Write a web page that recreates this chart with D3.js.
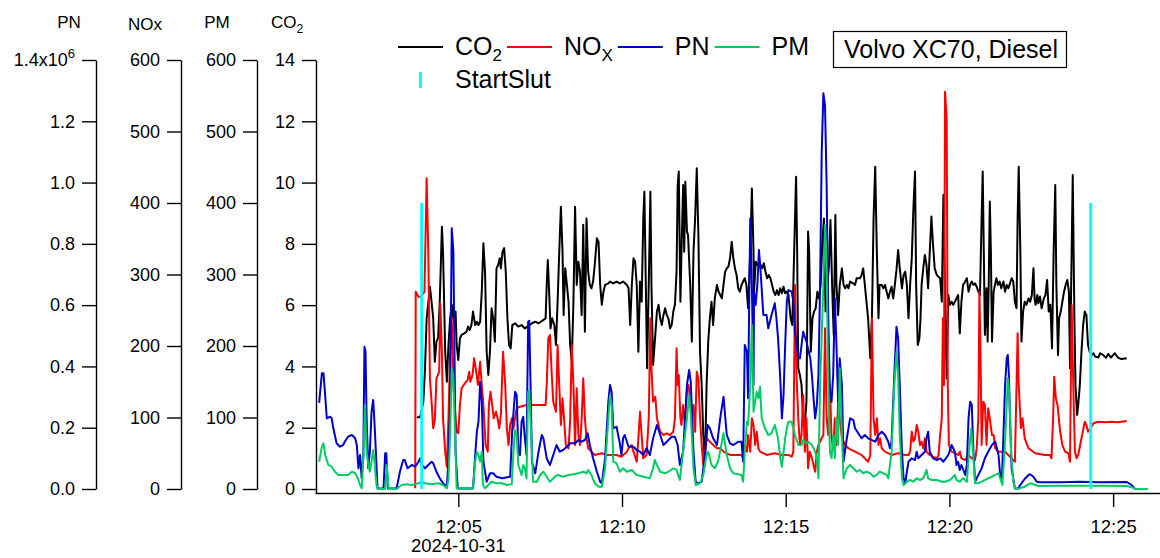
<!DOCTYPE html>
<html><head><meta charset="utf-8">
<script src="https://cdn.jsdelivr.net/npm/d3@7"></script>
<style>
body{margin:0;background:#fff}
svg{display:block}
text{font-family:"Liberation Sans",Arial,Helvetica,sans-serif;fill:#000}
</style>
</head><body>
<svg id="chart" width="1160" height="558"></svg>
<script>
// ---------------- DATA ----------------
// time in seconds after 12:00:00 on the test date, value in the series' unit
const testDate = [2024, 9, 31, 12, 0, 0];
const vehicleLabel = "Volvo XC70, Diesel";
const co2 = [[224,2.34],[230,2.34],[236,2.85],[239,3.94],[242,5.57],[248,6.60],[251,6.11],[254,5.57],[257,4.15],[260,4.81],[263,4.93],[266,6.11],[270,8.56],[272,7.74],[276,4.48],[279,3.50],[282,4.70],[285,5.57],[288,6.01],[291,5.57],[295,5.79],[297,4.70],[300,4.21],[303,4.92],[306,5.03],[311,5.08],[315,5.13],[318,5.30],[321,5.19],[324,5.35],[327,5.79],[331,5.35],[334,5.46],[337,5.35],[340,5.46],[343,6.44],[346,8.02],[349,7.09],[352,4.48],[355,3.72],[358,4.48],[361,5.90],[364,5.57],[367,4.81],[370,7.20],[373,7.31],[376,7.53],[378,7.20],[381,7.74],[384,7.86],[387,7.09],[390,5.57],[393,4.70],[396,4.59],[399,5.35],[404,5.41],[410,5.30],[416,5.35],[422,5.24],[435,5.41],[441,5.46],[447,5.41],[453,5.48],[460,5.57],[462,6.66],[464,7.47],[466,6.66],[469,5.24],[472,5.57],[476,5.35],[479,4.70],[482,6.11],[485,7.74],[488,9.21],[491,7.74],[493,5.68],[496,7.20],[499,6.66],[502,6.11],[505,4.70],[508,4.15],[511,6.11],[514,9.21],[517,6.66],[520,7.42],[523,7.09],[526,5.68],[529,8.62],[532,5.13],[535,8.83],[538,7.09],[541,6.66],[544,6.55],[547,6.77],[550,7.31],[554,8.18],[557,8.07],[560,6.66],[563,6.01],[566,6.44],[569,6.66],[575,6.71],[578,6.77],[584,6.71],[590,6.77],[596,6.71],[602,6.77],[609,6.66],[612,6.55],[615,5.35],[618,6.66],[621,7.53],[624,7.42],[627,6.66],[630,4.48],[633,6.77],[636,6.11],[639,8.83],[641,9.70],[643,7.42],[646,3.94],[649,6.66],[652,9.70],[654,6.66],[657,4.05],[661,5.03],[664,5.79],[667,6.01],[670,5.57],[673,5.35],[676,5.68],[679,5.90],[682,5.68],[685,5.57],[688,5.24],[691,5.35],[694,5.79],[697,6.01],[700,7.09],[702,9.92],[704,10.36],[707,6.11],[709,7.74],[712,9.92],[714,7.74],[716,10.03],[719,8.40],[721,8.29],[725,6.66],[728,4.81],[731,7.74],[734,8.83],[737,10.47],[740,8.29],[743,4.48],[746,3.39],[749,1.76],[752,0.75],[755,3.39],[758,4.81],[761,5.57],[764,6.11],[767,5.35],[770,6.22],[774,6.66],[777,6.44],[780,6.33],[783,6.22],[786,6.66],[789,7.09],[792,7.20],[795,7.26],[798,7.53],[801,8.07],[804,7.53],[807,7.20],[810,6.98],[813,6.55],[816,6.44],[819,6.66],[822,6.77],[825,6.88],[828,6.66],[831,5.90],[835,7.74],[838,9.81],[841,7.74],[842,6.44],[845,7.42],[848,7.31],[851,7.42],[854,7.31],[857,7.20],[860,7.37],[863,7.09],[866,6.88],[869,6.98],[872,6.88],[875,6.66],[878,6.44],[881,6.33],[884,6.49],[887,6.33],[890,6.55],[893,6.39],[896,6.60],[899,6.39],[902,6.44],[905,6.33],[909,5.57],[912,5.35],[914,6.66],[917,8.83],[919,10.19],[921,7.74],[923,3.94],[926,3.72],[929,3.39],[932,2.31],[935,2.09],[938,2.85],[941,8.40],[943,7.74],[946,4.48],[949,5.57],[952,5.79],[955,5.90],[958,6.44],[961,6.22],[964,6.66],[967,7.96],[970,8.83],[973,5.79],[976,6.66],[979,7.20],[982,8.78],[985,6.66],[988,5.03],[991,8.94],[993,6.66],[996,5.68],[999,6.66],[1003,7.20],[1006,6.66],[1009,6.55],[1012,6.66],[1015,6.55],[1018,6.77],[1024,6.71],[1027,6.66],[1030,6.88],[1036,6.88],[1039,6.98],[1042,7.20],[1045,6.66],[1048,6.11],[1051,5.57],[1055,4.27],[1058,5.57],[1061,8.83],[1064,10.52],[1067,7.74],[1070,5.57],[1072,6.66],[1076,6.66],[1079,6.55],[1082,6.66],[1085,6.44],[1088,6.22],[1091,6.44],[1094,6.60],[1097,6.22],[1100,6.66],[1103,7.15],[1106,7.80],[1109,7.20],[1113,6.55],[1116,6.98],[1119,7.09],[1122,6.66],[1125,5.57],[1128,6.66],[1131,7.53],[1134,9.16],[1137,10.36],[1139,6.66],[1142,4.70],[1145,4.92],[1147,5.57],[1149,6.66],[1152,7.20],[1155,7.64],[1158,7.31],[1161,6.55],[1164,7.74],[1167,8.89],[1170,7.96],[1173,7.20],[1177,6.98],[1180,6.93],[1183,6.88],[1186,6.11],[1189,9.60],[1192,6.44],[1195,3.61],[1198,6.33],[1201,6.01],[1204,6.11],[1207,6.01],[1210,6.11],[1213,6.22],[1216,6.33],[1219,5.08],[1222,6.11],[1225,6.66],[1229,6.77],[1232,6.88],[1235,6.44],[1238,6.66],[1241,6.77],[1244,6.66],[1247,6.71],[1250,6.60],[1253,6.44],[1256,6.33],[1259,8.83],[1261,10.36],[1263,7.74],[1265,5.03],[1268,6.55],[1270,4.81],[1272,6.66],[1274,9.38],[1276,7.74],[1278,4.81],[1281,6.44],[1286,6.88],[1289,6.66],[1292,6.77],[1295,6.55],[1299,6.77],[1302,6.44],[1305,6.66],[1308,6.55],[1311,6.71],[1314,6.88],[1317,6.77],[1320,6.11],[1323,5.90],[1325,8.83],[1327,10.52],[1330,7.74],[1332,4.81],[1335,5.79],[1338,6.11],[1341,6.01],[1345,6.22],[1348,6.11],[1351,6.33],[1354,7.20],[1356,6.22],[1358,6.01],[1361,6.33],[1363,6.06],[1366,6.28],[1369,5.90],[1373,6.22],[1376,6.33],[1379,6.82],[1382,5.79],[1385,6.01],[1388,4.59],[1391,7.74],[1394,9.92],[1396,6.66],[1399,4.37],[1401,5.57],[1404,5.79],[1407,6.11],[1410,6.44],[1413,6.66],[1416,6.82],[1419,6.44],[1421,3.94],[1424,7.74],[1426,10.25],[1429,5.57],[1431,3.39],[1434,2.42],[1436,2.74],[1439,3.39],[1442,4.48],[1445,5.35],[1448,5.79],[1451,5.68],[1454,4.70],[1457,4.48],[1461,4.37],[1464,4.43],[1467,4.32],[1473,4.29],[1476,4.43],[1482,4.37],[1487,4.28],[1491,4.41],[1496,4.29],[1503,4.43],[1509,4.29],[1515,4.24],[1525,4.27]];
const nox = [[221,1],[222,275.9],[227,268.9],[230,268.9],[238,275.5],[242,434.5],[245,331.9],[248,154.8],[251,122.1],[254,84.9],[257,96.5],[260,154.8],[265,164.1],[267,259.7],[270,192],[272,98.9],[276,52.2],[279,31.2],[282,98.9],[285,192],[288,238.7],[291,145.5],[295,98.9],[297,80.1],[300,77.9],[303,117.5],[306,140.8],[312,147.8],[317,152.4],[320,164.1],[322,150.1],[326,159.4],[329,182.8],[332,168.8],[336,145.5],[340,178],[343,145.5],[346,117.5],[350,61.5],[354,52.2],[356,117.5],[359,136.1],[362,117.5],[365,98.9],[369,108.1],[372,98.9],[375,84.9],[378,103.5],[382,192],[386,145.5],[389,84.9],[392,61.5],[395,89.5],[398,98.9],[401,84.9],[407,112.9],[413,115.1],[425,117.5],[435,117.5],[460,117.5],[462,145.5],[465,210.8],[468,215.4],[471,164.1],[474,122.1],[479,108.1],[482,201.4],[485,145.5],[488,89.5],[491,126.9],[494,96.5],[497,61.5],[502,56.9],[505,96.5],[508,201.4],[511,145.5],[514,61.5],[517,140.8],[520,75.5],[523,61.5],[526,96.5],[529,154.8],[532,98.9],[535,70.9],[538,56.9],[544,52.2],[550,47.6],[563,49.9],[572,47.6],[590,47.6],[599,45.2],[609,52.2],[612,56.9],[618,61.5],[621,52.2],[627,38.2],[630,70.9],[633,108.1],[636,75.5],[639,42.9],[645,47.6],[649,98.9],[652,238.7],[654,168.8],[657,122.1],[661,129.1],[664,98.9],[670,80.1],[676,75.5],[682,77.9],[688,75.5],[694,80.1],[697,98.9],[700,196.8],[702,145.5],[704,159.4],[707,98.9],[709,89.5],[712,117.5],[715,89.5],[719,136.1],[722,145.5],[725,122.1],[728,98.9],[731,117.5],[734,80.1],[737,164.1],[740,154.8],[743,98.9],[746,61.5],[749,33.6],[752,52.2],[755,70.9],[761,66.2],[767,61.5],[774,56.9],[780,56.9],[786,52.2],[792,49.9],[798,47.6],[807,47.6],[819,47.6],[822,42.9],[825,61.5],[829,52.2],[831,75.5],[835,52.2],[838,98.9],[841,89.5],[844,61.5],[847,80.1],[850,56.9],[853,52.2],[865,47.6],[880,49.9],[893,47.6],[905,47.6],[911,45.2],[914,52.2],[917,285.3],[920,154.8],[923,98.9],[926,61.5],[929,75.5],[932,131.5],[935,52.2],[938,98.9],[941,29],[944,52.2],[948,42.9],[951,33.6],[954,24.2],[957,52.2],[960,61.5],[966,70.9],[969,75.5],[972,224.8],[975,98.9],[978,75.5],[981,145.5],[984,70.9],[987,56.9],[990,98.9],[993,61.5],[996,122.1],[999,98.9],[1003,70.9],[1009,61.5],[1015,56.9],[1027,52.2],[1039,47.6],[1045,42.9],[1051,38.2],[1055,47.6],[1058,238.7],[1061,98.9],[1064,75.5],[1067,98.9],[1070,61.5],[1073,70.9],[1076,56.9],[1082,52.2],[1094,47.6],[1106,49.9],[1119,47.6],[1125,47.6],[1128,52.2],[1131,80.1],[1134,66.2],[1137,70.9],[1140,89.5],[1143,80.1],[1146,61.5],[1149,66.2],[1152,56.9],[1155,70.9],[1158,52.2],[1164,47.6],[1170,45.2],[1177,42.9],[1180,47.6],[1183,75.5],[1186,98.9],[1188,238.7],[1190,145.5],[1192,555.7],[1195,518.5],[1197,145.5],[1199,61.5],[1204,52.2],[1216,47.6],[1219,52.2],[1222,42.9],[1229,40.6],[1235,47.6],[1241,42.9],[1247,40.6],[1250,56.9],[1253,98.9],[1255,275.9],[1257,192],[1259,61.5],[1262,122.1],[1265,117.5],[1268,61.5],[1271,112.9],[1274,98.9],[1278,75.5],[1281,75.5],[1284,56.9],[1290,52.2],[1302,52.2],[1308,47.6],[1314,42.9],[1320,38.2],[1323,145.5],[1325,217.8],[1327,145.5],[1331,84.9],[1334,98.9],[1338,70.9],[1345,56.9],[1357,49.9],[1375,47.6],[1384,47.6],[1387,42.9],[1390,98.9],[1392,157.1],[1395,126.9],[1398,117.5],[1403,80.1],[1407,61.5],[1412,52.2],[1418,49.9],[1421,38.2],[1424,257.3],[1427,145.5],[1430,52.2],[1433,42.9],[1436,47.6],[1442,70.9],[1448,94.1],[1451,89.5],[1454,80.1],[1459,85.3],[1464,91.9],[1473,94.1],[1485,93.3],[1497,94.1],[1509,93.3],[1525,95.1]];
const pn = [[45,281000],[50,377500],[53,377500],[56,306700],[59,230700],[65,235900],[68,230700],[71,198100],[77,149100],[83,138000],[89,143600],[92,154300],[98,170700],[105,176200],[111,165400],[114,143600],[117,67500],[120,110900],[123,34900],[126,110900],[128,464300],[130,448000],[132,230700],[135,67500],[138,121700],[141,252200],[144,290400],[146,230700],[149,121700],[152,2000],[163,2000],[166,116500],[168,116500],[171,2000],[187,2000],[193,56500],[199,94600],[202,94600],[207,67500],[215,78300],[221,72800],[227,89100],[230,100200],[233,78300],[239,67500],[245,78300],[251,89100],[254,83900],[260,56500],[266,34900],[272,18600],[279,7500],[282,94600],[285,274100],[288,850700],[291,774300],[293,448000],[295,121700],[299,2000],[327,2000],[331,110900],[334,187000],[337,219600],[340,350100],[343,284900],[346,89100],[352,23800],[358,51200],[364,51200],[370,40100],[380,34900],[395,40100],[399,198100],[404,317500],[407,306700],[410,121700],[413,110900],[416,219600],[419,235900],[422,165400],[425,110900],[428,545900],[430,549200],[433,290400],[435,89100],[441,51200],[447,121700],[453,176200],[456,165400],[462,100200],[468,78300],[474,110900],[480,143600],[486,121700],[492,127300],[499,138000],[505,149100],[514,149100],[520,159900],[526,154300],[532,159900],[537,181800],[541,143600],[547,100200],[554,56500],[560,23800],[563,18600],[569,100200],[575,284900],[578,339400],[581,317500],[584,198100],[590,203300],[596,149100],[599,110900],[602,165400],[605,176200],[612,138000],[621,138000],[627,127300],[633,121700],[639,110900],[645,132800],[651,110900],[657,165400],[664,208800],[670,176200],[676,143600],[682,154300],[691,170700],[697,170700],[702,143600],[706,78300],[712,121700],[719,339400],[723,388300],[726,350100],[731,121700],[735,23800],[740,18600],[746,23800],[752,110900],[757,208800],[761,198100],[767,165400],[774,143600],[780,230700],[786,301200],[792,176200],[798,149100],[804,143600],[813,154300],[819,154300],[822,89100],[825,469900],[829,448000],[831,296000],[835,883300],[838,665700],[841,339400],[842,643800],[845,600400],[848,665700],[851,779900],[854,709100],[859,567800],[865,567800],[868,524400],[874,567800],[880,606000],[883,557000],[886,491700],[890,361200],[893,230700],[896,306700],[899,469900],[902,611200],[905,649300],[911,643800],[914,611200],[917,513300],[923,426500],[926,426500],[929,469900],[932,513300],[938,480600],[945,426500],[948,372000],[951,296000],[954,230700],[957,274100],[960,372000],[963,665700],[966,1100600],[969,1291200],[972,1253000],[975,992000],[978,557000],[981,317500],[984,284900],[987,372000],[990,622300],[993,469900],[996,284900],[999,426500],[1003,339400],[1006,89100],[1012,165400],[1018,230700],[1024,225100],[1027,198100],[1033,181800],[1039,165400],[1045,176200],[1051,165400],[1064,154300],[1070,176200],[1076,187000],[1082,176200],[1088,154300],[1091,132800],[1094,154300],[1099,372000],[1103,529600],[1106,491700],[1109,339400],[1113,121700],[1116,34900],[1119,18600],[1122,55500],[1125,89100],[1131,100200],[1137,94600],[1140,121700],[1143,100200],[1149,110900],[1155,121700],[1158,165400],[1161,187000],[1164,121700],[1170,100200],[1177,94600],[1183,100200],[1189,89100],[1198,110900],[1204,143600],[1210,121700],[1213,78300],[1216,89100],[1219,62000],[1222,78300],[1229,45700],[1232,78300],[1235,230700],[1238,284900],[1241,274100],[1244,121700],[1247,23800],[1250,34900],[1253,45700],[1259,67500],[1265,100200],[1271,121700],[1278,143600],[1284,154300],[1290,110900],[1293,45700],[1296,23800],[1299,176200],[1302,339400],[1305,426500],[1307,437200],[1309,372000],[1311,230700],[1314,67500],[1320,2000],[1326,2000],[1332,18600],[1338,32600],[1345,45700],[1348,48000],[1354,40100],[1360,23800],[1366,21900],[1403,21900],[1439,23800],[1476,21900],[1525,22800],[1534,13000],[1540,0]];
const pm = [[45,38.2],[50,59.2],[53,63.9],[56,47.6],[62,33.6],[68,31.2],[74,24.2],[80,19.6],[92,19.6],[98,19.6],[105,24.2],[111,22],[116,15],[120,5.6],[123,1],[126,42.9],[129,117.5],[132,52.2],[135,33.6],[138,24.2],[141,38.2],[144,54.5],[147,33.6],[150,5.6],[153,0],[166,0],[169,33.6],[172,1],[187,0],[196,5.6],[205,6.6],[215,5.6],[227,8],[233,10.2],[239,8],[251,6.6],[263,8],[272,5.6],[279,1],[282,14],[285,75.5],[288,168.8],[291,154.8],[295,52.2],[297,1],[327,1],[331,38.2],[334,52.2],[337,47.6],[340,38.2],[343,52.2],[345,5.6],[349,1],[355,5.6],[361,10.2],[370,8],[380,8],[389,5.6],[398,6.6],[401,52.2],[404,82.5],[407,75.5],[410,33.6],[416,19.6],[419,33.6],[422,29],[425,15],[428,136.1],[430,138.5],[435,52.2],[437,10.2],[444,10.2],[450,19.6],[456,24.2],[462,17.2],[468,10.2],[477,17.2],[483,19.6],[492,17.2],[502,19.6],[511,20.6],[520,22],[529,24.2],[535,22],[538,26.6],[544,19.6],[550,8],[557,3.2],[563,3.2],[569,29],[575,98.9],[578,131.5],[581,117.5],[584,38.2],[590,35.9],[596,24.2],[602,29],[609,24.2],[618,26.6],[627,19.6],[639,17.2],[651,15],[657,29],[660,40.6],[664,33.6],[670,24.2],[679,22],[685,24.2],[694,29],[700,26.6],[706,12.6],[712,52.2],[719,98.9],[723,131.5],[726,103.5],[731,29],[735,5.6],[743,8],[749,19.6],[755,47.6],[758,52.2],[764,33.6],[770,29],[776,38.2],[782,61.5],[786,77.9],[792,47.6],[798,29],[804,22],[819,19.6],[822,10.2],[825,52.2],[829,94.1],[831,89.5],[835,145.5],[838,229.4],[841,108.1],[844,122.1],[847,136.1],[850,126.9],[853,143.1],[856,98.9],[862,84.9],[868,75.5],[874,77.9],[880,89.5],[886,70.9],[890,42.9],[893,31.2],[899,70.9],[902,84.9],[905,94.1],[911,94.1],[917,75.5],[923,61.5],[929,61.5],[932,68.5],[938,63.9],[941,66.2],[948,61.5],[954,52.2],[957,42.9],[960,15],[963,145.5],[966,215.4],[969,285.3],[972,369.2],[975,308.7],[978,145.5],[981,52.2],[984,42.9],[987,75.5],[990,42.9],[993,98.9],[996,61.5],[999,168.8],[1003,75.5],[1006,15],[1012,29],[1018,33.6],[1024,29],[1030,24.2],[1036,26.6],[1042,22],[1048,24.2],[1055,22],[1061,17.2],[1067,19.6],[1072,24.2],[1079,22],[1085,19.6],[1088,15],[1094,52.2],[1099,145.5],[1103,192],[1106,159.4],[1109,75.5],[1113,15],[1116,5.6],[1122,10.2],[1128,12.6],[1134,10.2],[1140,15],[1146,12.6],[1152,15],[1158,26.6],[1161,15],[1167,12.6],[1177,12.6],[1186,10.2],[1192,10.2],[1201,12.6],[1207,17.2],[1210,19.6],[1213,12.6],[1219,10.2],[1225,15],[1232,10.2],[1235,42.9],[1240,84.9],[1244,42.9],[1247,8],[1253,8],[1259,10.2],[1271,15],[1278,17.2],[1284,19.6],[1290,22],[1293,15],[1297,5.6],[1301,52.2],[1304,98.9],[1307,154.8],[1310,131.5],[1313,52.2],[1317,10.2],[1321,0],[1329,1],[1338,3.2],[1348,8],[1354,6.6],[1363,4.2],[1403,4.6],[1476,4.6],[1525,4.2],[1537,1.8],[1540,0],[1564,0]];
const startSlut = [[233,400],[1459,400]];
const xDomainSec = [37.4, 1585.9];
const co2Ticks = [0,2,4,6,8,10,12,14];
const noxTicks = [0,100,200,300,400,500,600];
const pmTicks = [0,100,200,300,400,500,600];
const pnTicks = [0,0.2e6,0.4e6,0.6e6,0.8e6,1.0e6,1.2e6,1.4e6];

// ---------------- DRAWING ----------------
const FONT = '"Liberation Sans",Arial,Helvetica,sans-serif';
const T0 = new Date(...testDate);
const at = s => new Date(T0.getTime() + s * 1000);
const svg = d3.select("#chart");
svg.append("rect").attr("width",1160).attr("height",558).attr("fill","#fff");

const yTop = 60, yBot = 489, xAxisY = 493;
const x = d3.scaleTime().domain(xDomainSec.map(at)).range([315, 1160]);
const yCO2 = d3.scaleLinear().domain([0, 14]).range([yBot, yTop]);
const yNOx = d3.scaleLinear().domain([0, 600]).range([yBot, yTop]);
const yPM  = d3.scaleLinear().domain([0, 600]).range([yBot, yTop]);
const yPN  = d3.scaleLinear().domain([0, 1.4e6]).range([yBot, yTop]);

function styleAxis(g, fs) {
  g.attr("font-family", FONT).attr("font-size", fs);
  g.selectAll("text").attr("fill", "#000");
  g.selectAll("line").attr("stroke", "#000").attr("stroke-width", 1.4);
  g.selectAll("path.domain").attr("stroke", "#000").attr("stroke-width", 1.4);
}
function leftAxis(scale, xpos, ticks, fmt) {
  const g = svg.append("g").attr("transform", `translate(${xpos},0)`)
    .call(d3.axisLeft(scale).tickValues(ticks).tickFormat(fmt)
      .tickSize(14).tickSizeOuter(0).tickPadding(7));
  styleAxis(g, 18);
  return g;
}
// PN axis
const gPN = leftAxis(yPN, 96, pnTicks, d => (d / 1e6).toFixed(1));
gPN.selectAll(".tick text").filter(d => d === d3.max(pnTicks)).each(function(d) {
  const t = d3.select(this).text("");
  t.append("tspan").text((d / 1e6).toFixed(1) + "x10");
  t.append("tspan").attr("dy", -8).attr("font-size", 13).text("6");
});
leftAxis(yNOx, 181, noxTicks, d3.format("d"));
leftAxis(yPM, 257, pmTicks, d3.format("d"));
const gC = leftAxis(yCO2, 316, co2Ticks, d3.format("d"));
gC.append("line").attr("x1", 0.5).attr("x2", 0.5).attr("y1", yBot).attr("y2", xAxisY)
  .attr("stroke", "#000").attr("stroke-width", 1.4);

// x axis
const gx = svg.append("g").attr("transform", `translate(0,${xAxisY})`)
  .call(d3.axisBottom(x).ticks(d3.timeMinute.every(5)).tickFormat(d3.timeFormat("%H:%M"))
    .tickSize(14).tickSizeOuter(0).tickPadding(13));
styleAxis(gx, 18.5);
const firstTick = x.ticks(d3.timeMinute.every(5))[0];
svg.append("text").attr("x", x(firstTick)).attr("y", 552).attr("text-anchor", "middle")
  .attr("font-size", 18.5).text(d3.timeFormat("%Y-%m-%d")(T0));

// axis titles
function title(xc, y, main, sub) {
  const t = svg.append("text").attr("x", xc).attr("y", y).attr("text-anchor", "middle").attr("font-size", 17);
  t.append("tspan").text(main);
  if (sub) t.append("tspan").attr("dy", 5).attr("font-size", 12).text(sub);
}
title(69, 28, "PN");
title(145, 30, "NOx");
title(217, 28, "PM");
title(287, 28, "CO", "2");

// series
const series = [
  {key: "CO2", main: "CO", sub: "2", data: co2, y: yCO2, color: "#000000"},
  {key: "NOX", main: "NO", sub: "X", data: nox, y: yNOx, color: "#ff0000"},
  {key: "PN",  main: "PN", sub: "",  data: pn,  y: yPN,  color: "#0000cc"},
  {key: "PM",  main: "PM", sub: "",  data: pm,  y: yPM,  color: "#00cc66"}
];
const plot = svg.append("g");
series.forEach(s => {
  const line = d3.line().x(d => x(at(d[0]))).y(d => s.y(d[1]));
  plot.append("path").datum(s.data).attr("d", line)
    .attr("fill", "none").attr("stroke", s.color).attr("stroke-width", 2)
    .attr("stroke-linejoin", "round");
});
// StartSlut sticks (drop lines on NOx scale)
plot.selectAll("line.ss").data(startSlut).join("line").attr("class", "ss")
  .attr("x1", d => x(at(d[0]))).attr("x2", d => x(at(d[0])))
  .attr("y1", yNOx(0)).attr("y2", d => yNOx(d[1]))
  .attr("stroke", "#00ffff").attr("stroke-width", 3);

// legend
const leg = svg.append("g").attr("font-size", 25);
let cx = 398;
const rowY = 47;
series.forEach(s => {
  leg.append("line").attr("x1", cx).attr("x2", cx + 45).attr("y1", rowY).attr("y2", rowY)
    .attr("stroke", s.color).attr("stroke-width", 2);
  const t = leg.append("text").attr("x", cx + 57).attr("y", rowY + 8);
  t.append("tspan").text(s.main);
  if (s.sub) t.append("tspan").attr("dy", 6).attr("font-size", 17).text(s.sub);
  cx = cx + 57 + t.node().getComputedTextLength() + 5;
});
leg.append("line").attr("x1", 420.5).attr("x2", 420.5).attr("y1", 72).attr("y2", 88)
  .attr("stroke", "#00ffff").attr("stroke-width", 3);
leg.append("text").attr("x", 455).attr("y", 88).text("StartSlut");

// annotation box
const box = svg.append("g");
box.append("rect").attr("x", 833.5).attr("y", 31.5).attr("width", 233).attr("height", 36)
  .attr("fill", "#fff").attr("stroke", "#000").attr("stroke-width", 1.2);
box.append("text").attr("x", 844).attr("y", 58).attr("font-size", 25).text(vehicleLabel);
</script>
</body></html>
